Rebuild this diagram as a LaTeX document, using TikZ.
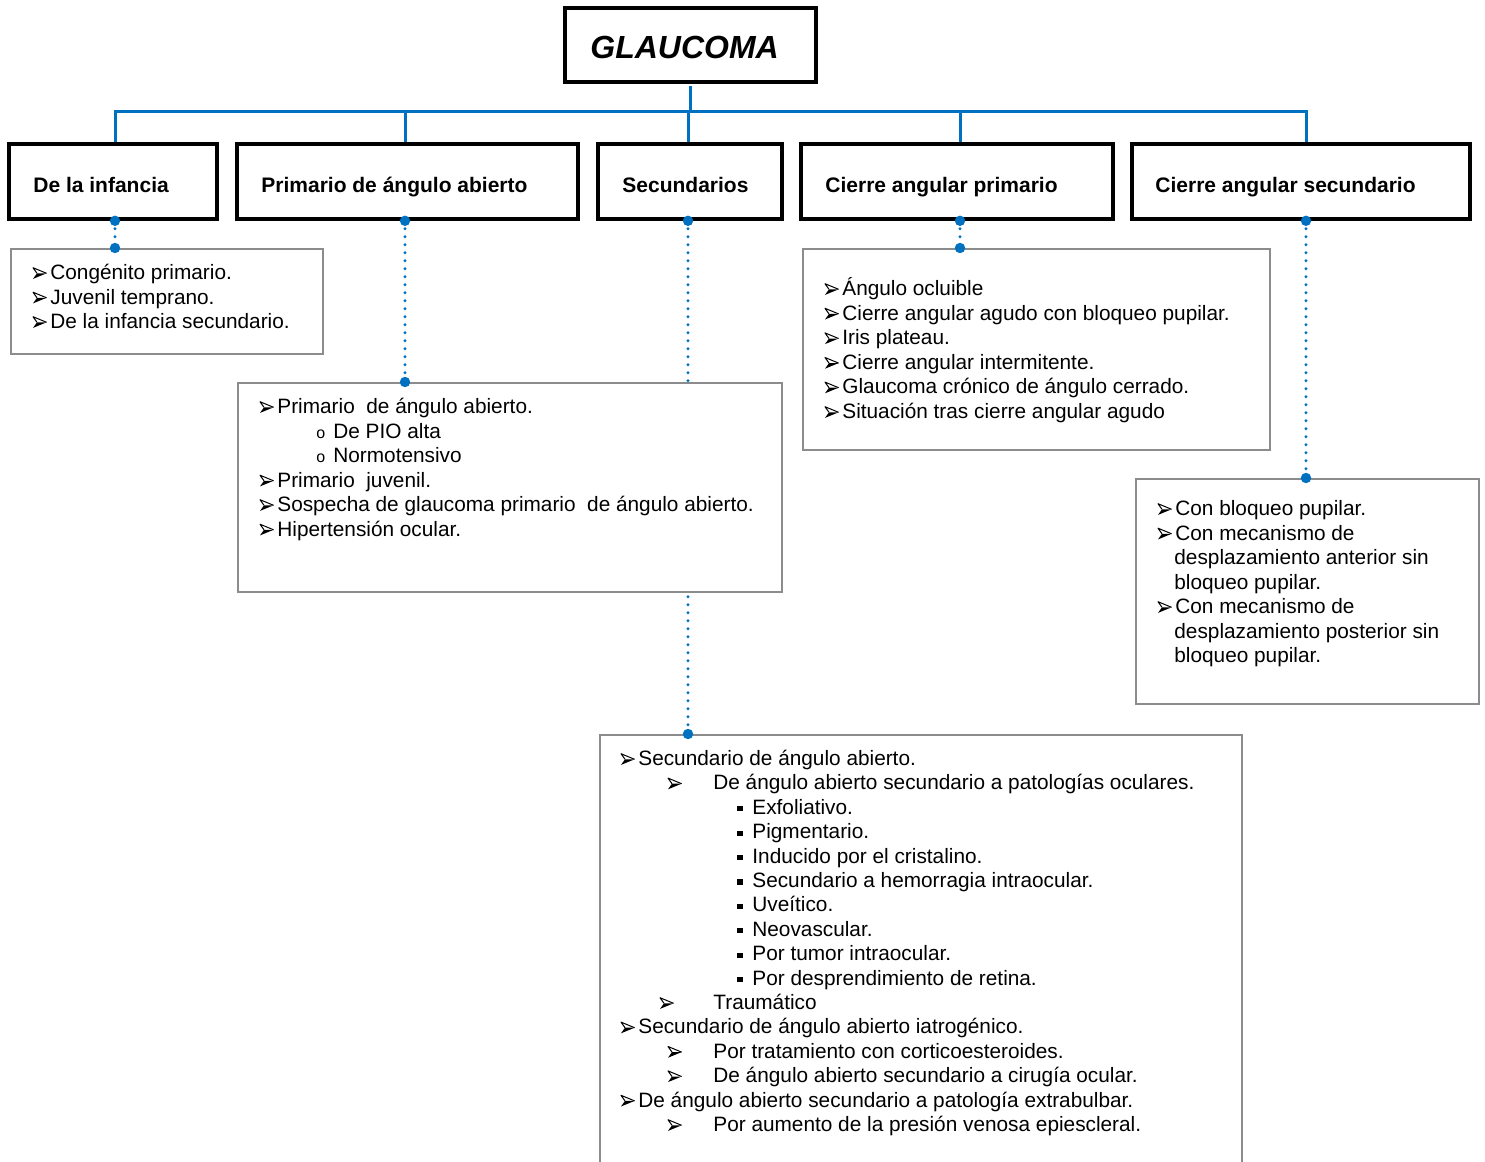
\documentclass[tikz,border=0pt]{standalone}
\usepackage{fontspec}
\setmainfont{Liberation Sans}
\usetikzlibrary{fit}
\definecolor{treeblue}{RGB}{0,112,192}
\definecolor{boxgray}{RGB}{140,140,140}
\newcommand{\sqb}{\raisebox{1.5pt}{\rule{2.6pt}{2.6pt}}}
\newcommand{\ob}{{\fontsize{8}{8}\selectfont o}}
\newcommand{\Li}[1]{\hspace*{8.5pt}#1}
\newcommand{\Lii}[1]{\hspace*{22.5pt}#1}
\newcommand{\Ltr}[1]{\hspace*{26.5pt}#1}
\newcommand{\Liii}[1]{\makebox[7.5pt][l]{\sqb}#1}
\newcommand{\Lo}[1]{\makebox[8.5pt][l]{\ob}#1}
\tikzset{
  hdr/.style={draw=black, line width=1.8pt, inner sep=0pt},
  cbox/.style={draw=boxgray, line width=1pt, fill=white, inner sep=0pt},
  tree/.style={draw=treeblue, line width=1.5pt},
  dotl/.style={draw=treeblue, line width=1.6pt, line cap=round, dash pattern=on 0pt off 4pt},
  txt/.style={anchor=base west, inner sep=0pt, font=\fontsize{10.4}{12}\selectfont},
  htxt/.style={anchor=base west, inner sep=0pt, font=\bfseries\fontsize{10.5}{12}\selectfont},
  bdot/.style={fill=treeblue},
  abul/.pic={
    \fill[black] (0pt,0.3pt) -- (6.8pt,3.1pt) -- (2pt,3.1pt) -- cycle;
    \draw[black, line width=0.5pt, line join=round] (2pt,3.1pt) -- (0pt,5.9pt) -- (6.8pt,3.1pt);
  },
  nobul/.pic={},
}
\begin{document}
\begin{tikzpicture}[x=0.5pt,y=-0.5pt]
\fill[white] (0,0) rectangle (1485,1162);
\clip (0,0) rectangle (1485,1162);

% title
\node[hdr, line width=2pt, fit={(565,8) (816,82)}] (g) {};
\node[anchor=base west, inner sep=0pt, font=\bfseries\itshape\fontsize{16}{18}\selectfont] (gt) at (590,58) {GLAUCOMA};

% header boxes
\node[hdr, fit={(9,144) (217,219)}] (h1) {};
\node[hdr, fit={(237,144) (578,219)}] (h2) {};
\node[hdr, fit={(598,144) (782,219)}] (h3) {};
\node[hdr, fit={(801,144) (1113,219)}] (h4) {};
\node[hdr, fit={(1132,144) (1470,219)}] (h5) {};
\node[htxt] (h1t) at (33,192) {De la infancia};
\node[htxt] (h2t) at (261,192) {Primario de ángulo abierto};
\node[htxt] (h3t) at (622,192) {Secundarios};
\node[htxt] (h4t) at (825,192) {Cierre angular primario};
\node[htxt] (h5t) at (1155,192) {Cierre angular secundario};

% connection points on the header boxes
\foreach \h/\dx in {h1/1,h2/-1.25,h3/-1,h4/1.5,h5/2.5}{
  \coordinate (\h n) at ([xshift=\dx pt]\h.north);
  \coordinate (\h s) at ([xshift=\dx pt]\h.south);
}

% tree
\coordinate (bus) at (0,111);
\draw[tree, shorten <=1pt] (g.south) -- (g.south |- bus);
\draw[tree] (h1n) -- (h1n |- bus) -- (h5n |- bus) -- (h5n);
\foreach \h in {h2,h3,h4}
  \draw[tree] (\h n) -- (\h n |- bus);

% content boxes
\node[cbox, fit={(11,249) (323,354)}] (b1) {};
\node[cbox, fit={(600,735) (1242,1180)}] (b5) {};
\draw[dotl] (h3s) -- (h3s |- b5.north);
\fill[bdot] (h3s) circle (2.6pt);
\fill[bdot] (h3s |- b5.north) circle (2.6pt);
\node[cbox, fit={(238,383) (782,592)}] (b2) {};
\node[cbox, fit={(803,249) (1270,450)}] (b3) {};
\node[cbox, fit={(1136,479) (1479,704)}] (b4) {};

% dotted connectors
\foreach \h/\b in {h1/b1,h2/b2,h4/b3,h5/b4}{
  \draw[dotl] (\h s) -- (\h s |- \b.north);
  \fill[bdot] (\h s) circle (2.6pt);
  \fill[bdot] (\h s |- \b.north) circle (2.6pt);
}

% box 1
\foreach \i/\tx in {0/{Congénito primario.},1/{Juvenil temprano.},2/{De la infancia secundario.}}{
  \node[txt] (b1l\i) at (33,279.5+24.5*\i) {\Li{\tx}};
  \pic at (b1l\i.base west) {abul};
}

% box 2
\foreach \i/\x/\p/\tx in {0/260/abul/{\Li{Primario\ \ de ángulo abierto.}},
  1/316/nobul/{\Lo{De PIO alta}},
  2/316/nobul/{\Lo{Normotensivo}},
  3/260/abul/{\Li{Primario\ \ juvenil.}},
  4/260/abul/{\Li{Sospecha de glaucoma primario\ \ de ángulo abierto.}},
  5/260/abul/{\Li{Hipertensión ocular.}}}{
  \node[txt] (b2l\i) at (\x,413.5+24.5*\i) {\tx};
  \pic at (b2l\i.base west) {\p};
}

% box 3
\foreach \i/\tx in {0/{Ángulo ocluible},1/{Cierre angular agudo con bloqueo pupilar.},2/{Iris plateau.},3/{Cierre angular intermitente.},4/{Glaucoma crónico de ángulo cerrado.},5/{Situación tras cierre angular agudo}}{
  \node[txt] (b3l\i) at (825,295.5+24.6*\i) {\Li{\tx}};
  \pic at (b3l\i.base west) {abul};
}

% box 4
\foreach \i/\x/\p/\tx in {0/1158/abul/{\Li{Con bloqueo pupilar.}},
  1/1158/abul/{\Li{Con mecanismo de}},
  2/1174/nobul/{desplazamiento anterior sin},
  3/1174/nobul/{bloqueo pupilar.},
  4/1158/abul/{\Li{Con mecanismo de}},
  5/1174/nobul/{desplazamiento posterior sin},
  6/1174/nobul/{bloqueo pupilar.}}{
  \node[txt] (b4l\i) at (\x,515.5+24.5*\i) {\tx};
  \pic at (b4l\i.base west) {\p};
}

% box 5
\foreach \i/\x/\p/\tx in {0/621/abul/{\Li{Secundario de ángulo abierto.}},
  1/668/abul/{\Lii{De ángulo abierto secundario a patologías oculares.}},
  2/737/nobul/{\Liii{Exfoliativo.}},
  3/737/nobul/{\Liii{Pigmentario.}},
  4/737/nobul/{\Liii{Inducido por el cristalino.}},
  5/737/nobul/{\Liii{Secundario a hemorragia intraocular.}},
  6/737/nobul/{\Liii{Uveítico.}},
  7/737/nobul/{\Liii{Neovascular.}},
  8/737/nobul/{\Liii{Por tumor intraocular.}},
  9/737/nobul/{\Liii{Por desprendimiento de retina.}},
  10/660/abul/{\Ltr{Traumático}},
  11/621/abul/{\Li{Secundario de ángulo abierto iatrogénico.}},
  12/668/abul/{\Lii{Por tratamiento con corticoesteroides.}},
  13/668/abul/{\Lii{De ángulo abierto secundario a cirugía ocular.}},
  14/621/abul/{\Li{De ángulo abierto secundario a patología extrabulbar.}},
  15/668/abul/{\Lii{Por aumento de la presión venosa epiescleral.}}}{
  \node[txt] (b5l\i) at (\x,765.5+24.4*\i) {\tx};
  \pic at (b5l\i.base west) {\p};
}
\end{tikzpicture}
\end{document}
